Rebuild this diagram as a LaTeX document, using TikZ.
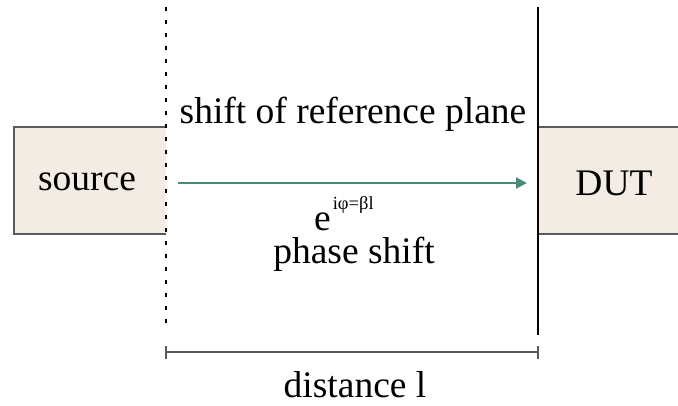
\documentclass[tikz,border=0pt]{standalone}
\usepackage{fontspec}
\setmainfont{Liberation Serif}
\usetikzlibrary{arrows.meta}
\definecolor{boxfill}{RGB}{242,236,229}
\definecolor{boxline}{RGB}{90,90,90}
\definecolor{teal}{RGB}{74,138,122}
\begin{document}
\begin{tikzpicture}[x=1pt,y=-1pt,
  lbl/.style={inner sep=0pt,font=\fontsize{37.5}{44}\selectfont,anchor=base},
  boxside/.style={draw=boxline,line width=1.2pt},
  refline/.style={line width=2pt,black}]
\useasboundingbox (0,0) rectangle (678,405);
% boxes
\fill[boxfill] (14,127) rectangle (166,234);
\draw[boxside] (166,127) -- (14,127) -- (14,234) -- (166,234);
\fill[boxfill] (538,127) rectangle (678,234);
\draw[boxside] (538,127) -- (678,127);
\draw[boxside] (538,234) -- (678,234);
% reference planes
\coordinate (d1) at (166,7);
\coordinate (d2) at (166,330);
\coordinate (s1) at (538,7);
\coordinate (s2) at (538,335);
\draw[refline,line width=2pt,dash pattern=on 4pt off 9pt] (d1) -- (d2);
\draw[refline] (s1) -- (s2);
% texts
\node[lbl] (src) at (87,190) {source};
\node[lbl] (dut) at (614,195) {DUT};
\node[lbl] (shift) at (353,123) {shift of reference plane};
\node[lbl,anchor=base west] (exp) at (314,230) {e\hspace{2pt}\raisebox{21pt}{\fontsize{18.5}{22}\selectfont iφ=βl}};
\node[lbl] (phase) at (354,263) {phase shift};
\node[lbl] (dist) at (355,397) {distance l};
% arrow
\coordinate (a1) at (178,183);
\coordinate (a2) at (527,183);
\draw[teal,line width=2.2pt,-{Triangle[length=11pt,width=11pt]}] (a1) -- (a2);
% dimension
\coordinate (m1) at (166,352);
\coordinate (m2) at (538,352);
\draw[boxline,line width=1.5pt] (m1) -- (m2);
\draw[boxline,line width=1.5pt] (166,346) -- (166,359);
\draw[boxline,line width=1.5pt] (538,346) -- (538,359);
\end{tikzpicture}
\end{document}
